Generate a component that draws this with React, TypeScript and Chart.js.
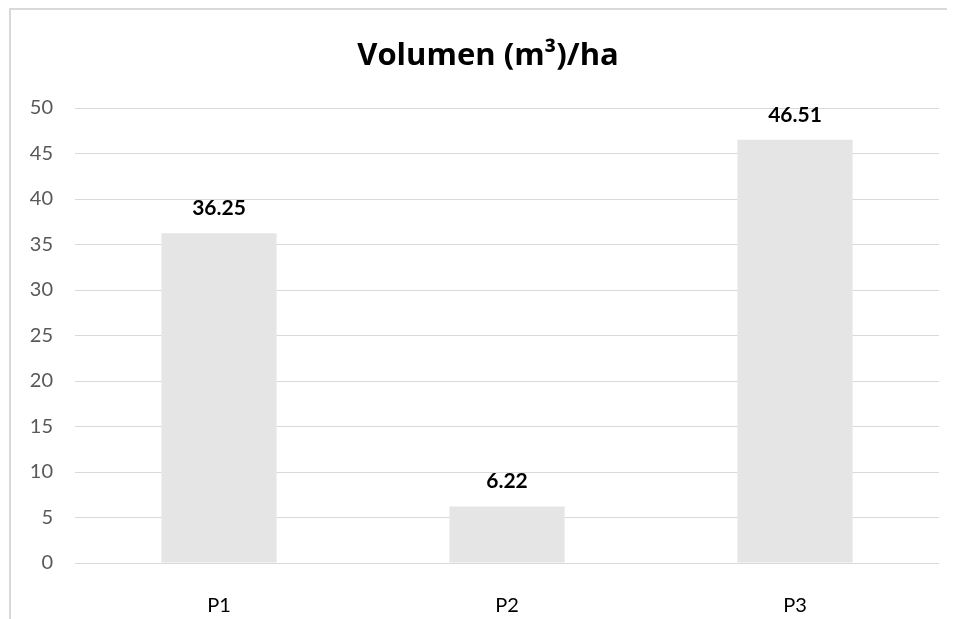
import React, { useEffect, useRef } from "react";
import { Chart, registerables } from "chart.js";

Chart.register(...registerables);

const categories = ["P1", "P2", "P3"];
const volumes = [36.25, 6.22, 46.51];
const valueLabels = ["36.25", "6.22", "46.51"];
const titleText = "Volumen (m³)/ha";
const yMin = 0;
const yMax = 50;
const yStep = 5;

const FONT = "Lato, 'Open Sans', sans-serif";
const TITLE_FONT = "'Open Sans', Lato, sans-serif";

const dataLabelPlugin = {
  id: "dataLabels",
  afterDatasetsDraw(chart: any) {
    const ctx = chart.ctx;
    const meta = chart.getDatasetMeta(0);
    ctx.save();
    ctx.font = `bold 21px ${FONT}`;
    ctx.fillStyle = "#000000";
    ctx.textAlign = "center";
    ctx.textBaseline = "middle";
    meta.data.forEach((bar: any, i: number) => {
      ctx.fillText(valueLabels[i], bar.x, bar.y - 25);
    });
    ctx.restore();
  },
};

const titlePlugin = {
  id: "centeredTitle",
  afterDraw(chart: any) {
    const ctx = chart.ctx;
    ctx.save();
    ctx.font = `bold 31px ${TITLE_FONT}`;
    ctx.fillStyle = "#000000";
    ctx.textAlign = "center";
    ctx.textBaseline = "middle";
    ctx.fillText(titleText, chart.width / 2 + 5, 46);
    ctx.restore();
  },
};

export default function App() {
  const ref = useRef<HTMLCanvasElement | null>(null);

  useEffect(() => {
    if (!ref.current) return;
    const chart = new Chart(ref.current, {
      type: "bar",
      data: {
        labels: categories,
        datasets: [
          {
            data: volumes,
            backgroundColor: "#e5e5e5",
            borderWidth: 0,
            barPercentage: 0.4,
            categoryPercentage: 1,
          },
        ],
      },
      options: {
        animation: false,
        responsive: false,
        maintainAspectRatio: false,
        layout: { padding: { left: 0, right: 16, top: 98, bottom: 0 } },
        plugins: {
          legend: { display: false },
          tooltip: { enabled: false },
          title: { display: false },
        },
        scales: {
          x: {
            grid: { display: false, drawTicks: false },
            border: { display: false },
            ticks: {
              color: "#000000",
              font: { family: FONT, size: 20 },
              padding: 31,
            },
            afterFit: (scale: any) => {
              scale.height = 56;
            },
          },
          y: {
            min: yMin,
            max: yMax,
            grid: { color: "#d9d9d9", lineWidth: 1, drawTicks: false },
            border: { display: false },
            ticks: {
              stepSize: yStep,
              color: "#595959",
              font: { family: FONT, size: 20 },
              padding: 22,
            },
            afterFit: (scale: any) => {
              scale.width = 64;
            },
          },
        },
      },
      plugins: [dataLabelPlugin, titlePlugin],
    });
    return () => chart.destroy();
  }, []);

  return (
    <div
      style={{
        marginLeft: 1,
        width: 946,
        height: 611,
        borderLeft: "2px solid #d9d9d9",
        borderTop: "2px solid #d9d9d9",
        boxSizing: "border-box",
        overflow: "hidden",
        background: "#ffffff",
      }}
    >
      <canvas ref={ref} width={944} height={609} style={{ display: "block" }} />
    </div>
  );
}
